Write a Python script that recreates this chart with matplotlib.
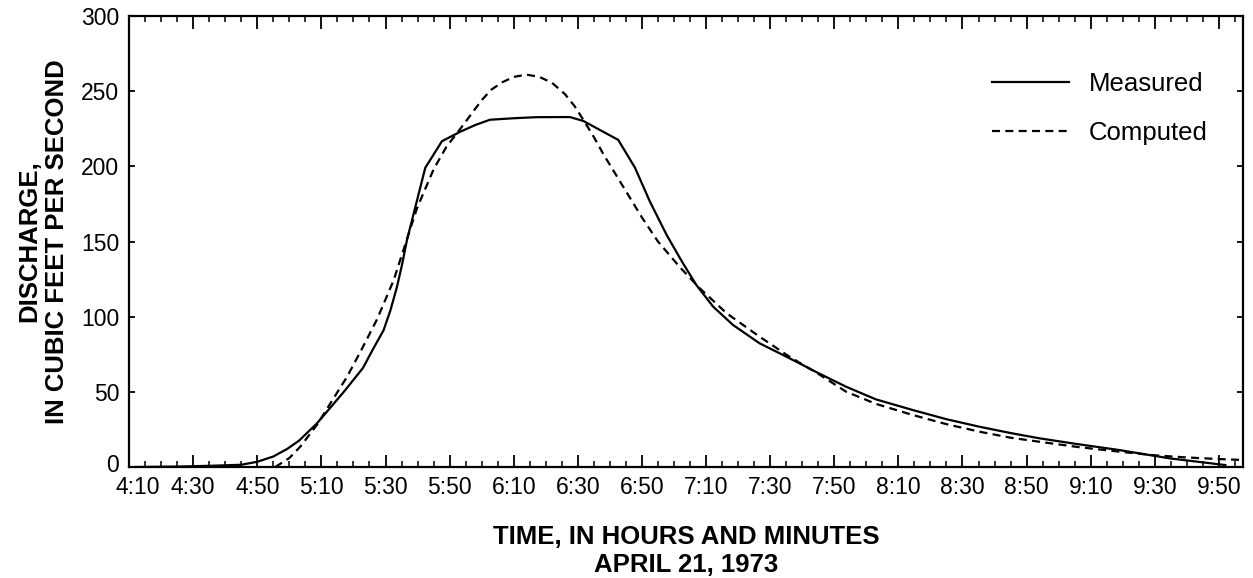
import numpy as np
import matplotlib.pyplot as plt
import matplotlib.transforms as mtransforms
from matplotlib.ticker import MultipleLocator

plt.rcParams['font.family'] = ['Liberation Sans', 'DejaVu Sans']

# time in minutes after 4:10, discharge in ft3/s
t_meas = [2, 15, 25, 35, 40, 45, 49.3, 53, 58.6, 63, 67, 70, 73, 76, 79.4, 81.5, 83.6,
          85.2, 86.7, 92.4, 97.6, 103.3, 108, 112.6, 120, 127, 137.5, 141.7, 152.6,
          157.8, 162.5, 167.7, 172.8, 177, 182.2, 188.4, 196.7, 203, 208.2,
          215, 223.7, 233, 244.5, 255, 265.3, 275, 284, 296, 308.9, 324.5, 342]
q_meas = [0, 0.3, 0.8, 1.5, 3.5, 7, 12, 17.5, 29, 40, 50, 58, 66, 78, 91, 104, 120,
          135, 151, 199, 216.7, 223, 227.5, 231, 232, 232.7, 232.8, 230.2, 217.6,
          199.2, 176.5, 154.4, 135.5, 121, 106.7, 94.5, 82.3, 75.6, 70,
          62.5, 53.4, 45, 37.9, 31.8, 26.8, 22.6, 19.1, 15.2, 11.3, 5.8, 1.3]

t_comp = [45.6, 50, 53.4, 58.6, 63, 68, 72.5, 77.3, 82.5, 86, 89.8, 95, 99,
          103, 106.5, 110, 113, 116.5, 120, 124, 128, 132, 136, 139, 142,
          145, 148, 152, 156, 160, 165, 171.8, 178, 186.4, 196.7, 206, 215,
          223.7, 233, 244.5, 255, 265.3, 275, 284, 296, 308.9, 320, 329.7, 340, 347.3]
q_comp = [0, 6, 13.5, 28, 43, 60, 78, 98, 124, 147, 172, 198, 213,
          224, 234, 244, 251, 256, 259.5, 261, 259.5, 255.5, 248, 240, 230,
          219.5, 208, 194, 180, 166, 150, 133, 119, 102.3, 86.7, 73.4, 62,
          50.1, 42, 34.6, 28.5, 23.5, 19.5, 16.8, 13.3, 10.2, 7.8, 6.4, 5.3, 4.7]

tick_labels = ['4:10', '4:30', '4:50', '5:10', '5:30', '5:50', '6:10', '6:30', '6:50',
               '7:10', '7:30', '7:50', '8:10', '8:30', '8:50', '9:10', '9:30', '9:50']

fig = plt.figure(figsize=(12.53, 5.78), dpi=100)
ax = fig.add_axes([0.103, 0.192, 0.889, 0.7803])

ax.plot(t_meas, q_meas, color='black', lw=1.6, label='Measured')
ax.plot(t_comp, q_comp, color='black', lw=1.6, ls=(0, (3.6, 2.4)), label='Computed')

ax.set_xlim(0, 347.5)
ax.set_ylim(0, 300)
ax.set_xticks(np.arange(0, 341, 20))
ax.set_xticklabels(tick_labels)
ax.xaxis.set_minor_locator(MultipleLocator(5))
ax.set_yticks(np.arange(0, 301, 50))

ax.tick_params(axis='x', which='major', direction='in', length=9, width=1.3,
               top=True, labelsize=16.5, pad=6.5)
ax.tick_params(axis='x', which='minor', direction='in', length=4.5, width=1.1, top=True)
ax.tick_params(axis='y', which='major', direction='in', length=4.5, width=1.3,
               right=True, labelsize=16.5, pad=7)
for s in ax.spines.values():
    s.set_linewidth(1.6)

# nudge the two corner labels apart, as in the original
first = ax.get_xticklabels()[0]
first.set_transform(first.get_transform() +
                    mtransforms.ScaledTranslation(6 / 72, 0, fig.dpi_scale_trans))
zero = ax.get_yticklabels()[0]
zero.set_transform(zero.get_transform() +
                   mtransforms.ScaledTranslation(0, 3 / 72, fig.dpi_scale_trans))

ax.set_xlabel('TIME, IN HOURS AND MINUTES\nAPRIL 21, 1973', fontsize=18.5,
              fontweight='bold', labelpad=18.5, linespacing=1.2)
ax.set_ylabel('DISCHARGE,\nIN CUBIC FEET PER SECOND', fontsize=18.5,
              fontweight='bold', labelpad=9, linespacing=1.15)

ax.legend(loc='upper right', bbox_to_anchor=(0.968, 0.876), frameon=False,
          borderpad=0, borderaxespad=0, fontsize=18.5, handlelength=3.0,
          handletextpad=0.75, labelspacing=0.97)

fig.savefig('out.png', dpi=100)
